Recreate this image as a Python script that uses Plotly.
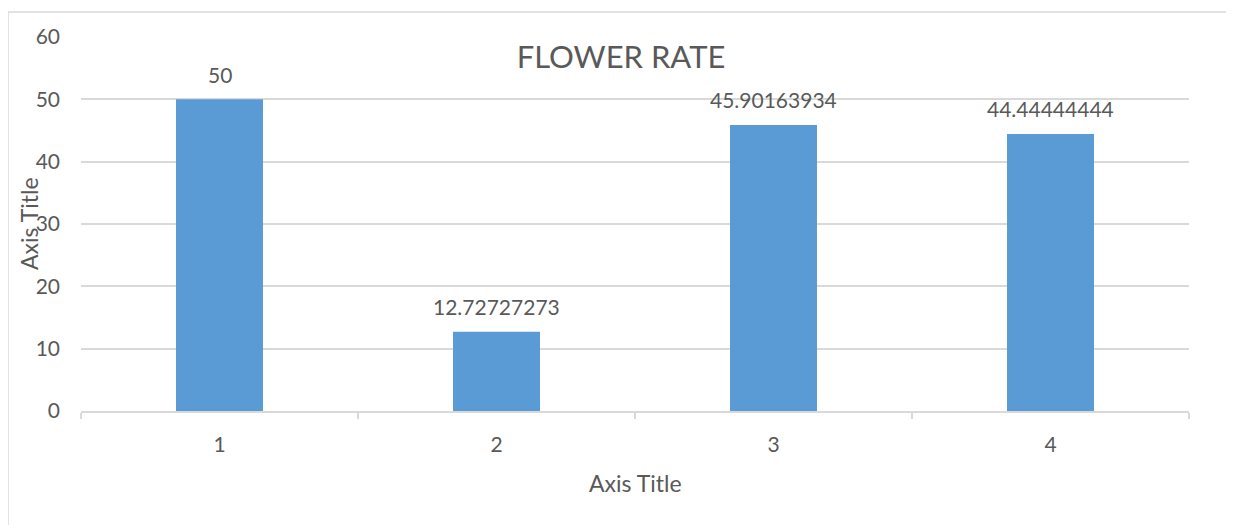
import plotly.graph_objects as go

categories = ["1", "2", "3", "4"]
values = [50, 12.72727273, 45.90163934, 44.44444444]
y_ticks = [0, 10, 20, 30, 40, 50, 60]
title_text = "FLOWER RATE"
x_title = "Axis Title"
y_title = "Axis Title"

TEXT = "#595959"
GRID = "#d9d9d9"
BAR = "#5b9bd5"
FONT = "Lato, 'Open Sans', sans-serif"

W, H = 1226, 517  # page body adds an 8px offset

fig = go.Figure()
fig.add_trace(go.Bar(
    x=categories, y=values, marker=dict(color=BAR, line=dict(width=0)),
    width=0.314, hoverinfo="skip",
))

annotations = []
for i, v in enumerate(values):
    annotations.append(dict(
        x=i, y=v, xref="x", yref="y", text=("%.10g" % v), showarrow=False,
        yanchor="middle", yshift=25, font=dict(family=FONT, size=21, color=TEXT),
    ))
annotations.append(dict(
    x=0.5, y=0, xref="paper", yref="paper", text=x_title, showarrow=False,
    yanchor="middle", yshift=-72, font=dict(family=FONT, size=23, color=TEXT),
))
annotations.append(dict(
    x=0, y=0.5, xref="paper", yref="paper", text=y_title, showarrow=False,
    xanchor="center", yanchor="middle", xshift=-52, textangle=-90,
    font=dict(family=FONT, size=23, color=TEXT),
))

fig.update_layout(
    width=W, height=H,
    margin=dict(l=73, r=45, t=29, b=114, autoexpand=False),
    paper_bgcolor="white", plot_bgcolor="white",
    showlegend=False,
    title=dict(text=title_text, x=(621 - 8) / W, xanchor="center",
               y=1 - (57 - 8) / H, yanchor="middle",
               font=dict(family=FONT, size=31, color=TEXT)),
    annotations=annotations,
    shapes=[
        dict(type="line", xref="paper", yref="paper", x0=-0.0659, x1=1.1,
             y0=1.0668, y1=1.0668, line=dict(color=GRID, width=1.5)),
        dict(type="line", xref="paper", yref="paper", x0=-0.0659, x1=-0.0659,
             y0=-0.5, y1=1.0668, line=dict(color=GRID, width=1.5)),
    ],
)
fig.update_xaxes(
    type="category", range=[-0.5, 3.5], showgrid=False, showline=True,
    linecolor=GRID, linewidth=1.5, automargin=False,
    ticks="outside", tickson="boundaries", ticklen=6, tickcolor=GRID, tickwidth=1.5,
    tickfont=dict(family=FONT, size=21, color=TEXT), ticklabelstandoff=14,
    zeroline=False,
)
fig.update_yaxes(
    range=[0, 60], tickvals=y_ticks, showgrid=True, gridcolor=GRID, gridwidth=1.5,
    showline=False, zeroline=False, ticks="", automargin=False,
    tickfont=dict(family=FONT, size=21, color=TEXT), ticklabelstandoff=20,
)

fig.write_html("out.html")
